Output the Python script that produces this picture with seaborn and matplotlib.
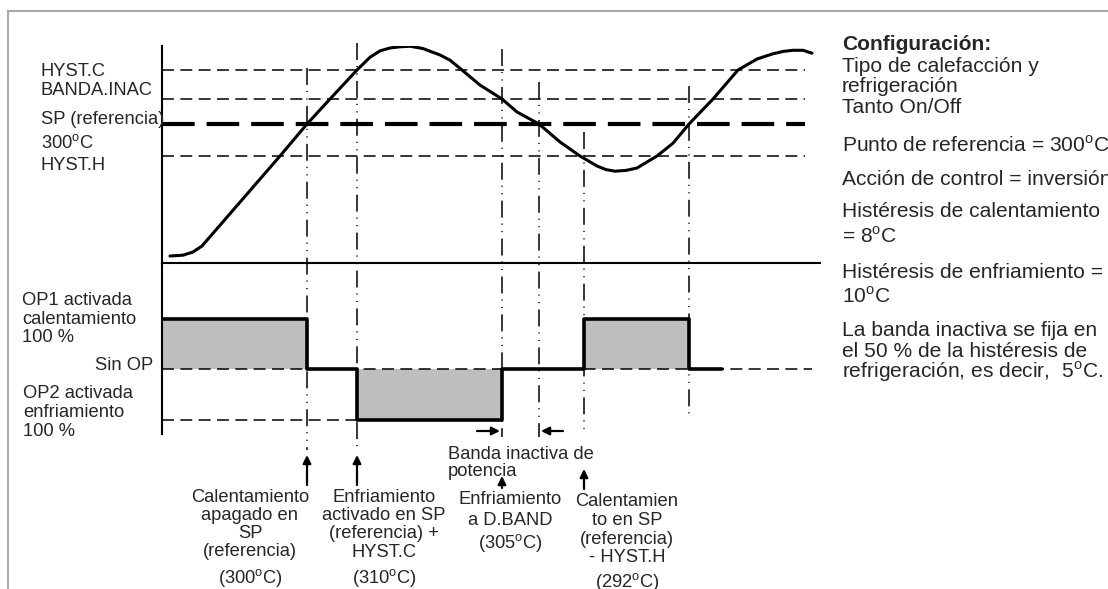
import numpy as np
import matplotlib
matplotlib.use("Agg")
import matplotlib.pyplot as plt
import matplotlib.transforms as mtransforms
from matplotlib.lines import Line2D
import seaborn as sns

# ---------------------------------------------------------------------------
# Data
# ---------------------------------------------------------------------------
# Process value: time (arbitrary units) and measured temperature (°C)
time_pv = [0.8, 2.1, 3.1, 4.0, 11.8, 14.5, 16.8, 19.5, 20.8, 21.8, 22.8, 23.8,
           24.8, 26.1, 27.0, 27.8, 28.8, 30.0, 31.8, 34.0, 35.5, 37.7, 39.8,
           41.8, 43.5, 44.4, 45.3, 46.4, 47.5, 49.5, 51.1, 52.7, 55.1, 57.6,
           59.5, 61.1, 62.1, 63.1, 64.1, 65.0]
temp_pv = [267.0, 267.2, 268.0, 269.5, 292.0, 300.0, 305.0, 310.0, 312.2, 313.3,
           313.8, 314.0, 314.1, 313.7, 313.1, 312.6, 311.7, 310.0, 307.4, 305.0,
           302.4, 300.0, 295.5, 292.0, 289.5, 288.6, 288.2, 288.4, 289.0, 292.0,
           295.2, 300.0, 305.0, 310.0, 311.9, 312.8, 313.2, 313.4, 313.4, 312.9]

# Threshold levels (°C)
level_names = ["HYST.C", "BANDA.INAC", "SP", "HYST.H"]
level_temps = [310, 305, 300, 292]

# Switching instants (same time units)
event_times = [14.5, 19.5, 34.0, 37.7, 42.2, 52.7]

# Controller output (%): +100 heating, 0 no output, -100 cooling
time_op = [0.0, 14.5, 19.5, 34.0, 42.2, 52.7, 56.0]
out_op = [100, 0, -100, 0, 100, 0, 0]

# ---------------------------------------------------------------------------
# Figure setup
# ---------------------------------------------------------------------------
sns.set_style("white")
plt.rcParams["font.family"] = ["Liberation Sans", "DejaVu Sans"]
plt.rcParams["mathtext.fontset"] = "custom"
plt.rcParams["mathtext.rm"] = "Liberation Sans"
plt.rcParams["lines.scale_dashes"] = False

W, H = 1108, 589
fig = plt.figure(figsize=(W / 100, H / 100), dpi=100)
fig.patch.set_facecolor("white")


def fx(px):
    return px / W


def fy(py):
    return 1 - py / H


FS = 13.2
FS_R = 15.1
DEG = r"$^{\mathregular{o}}$"

X_LEFT, X_RIGHT = 162, 820
T_MAX = (X_RIGHT - X_LEFT) / 10.0

ax_t = fig.add_axes([fx(X_LEFT), fy(263), (X_RIGHT - X_LEFT) / W, (263 - 46) / H])
ax_o = fig.add_axes([fx(X_LEFT), fy(434), (X_RIGHT - X_LEFT) / W, (434 - 263) / H])
for ax in (ax_t, ax_o):
    ax.set_facecolor("none")
    ax.set_xlim(0, T_MAX)
    ax.set_xticks([])
    ax.set_yticks([])
    for s in ax.spines.values():
        s.set_visible(False)
        s.set_linewidth(1.5)
        s.set_color("black")
ax_t.spines["left"].set_visible(True)
ax_t.spines["bottom"].set_visible(True)
ax_o.spines["left"].set_visible(True)

# ---------------------------------------------------------------------------
# Temperature panel
# ---------------------------------------------------------------------------
sns.lineplot(x=time_pv, y=temp_pv, sort=False, estimator=None, ax=ax_t,
             color="black", linewidth=2.2, zorder=5)

thin_dash = (0, (8.6, 4.6))
thick_dash = (0, (23.5, 8.6))
x_end_levels = 64.3
for name, temp in zip(level_names, level_temps):
    if name == "SP":
        ax_t.plot([0, x_end_levels], [temp, temp], color="black", lw=3.0,
                  ls=thick_dash, zorder=3)
    else:
        ax_t.plot([0, x_end_levels], [temp, temp], color="black", lw=1.1,
                  ls=thin_dash, zorder=3)

# Schematic temperature scale: the threshold band is drawn expanded
t_anchor = np.array([200.0, 292.0, 300.0, 305.0, 310.0, 400.0])
u_anchor = -np.array([524.0, 156.0, 124.0, 99.0, 70.0, -452.0])


def t_fwd(v):
    return np.interp(v, t_anchor, u_anchor)


def t_inv(v):
    return np.interp(v, u_anchor, t_anchor)


ax_t.set_yscale("function", functions=(t_fwd, t_inv))
ax_t.set_ylim(265.25, 314.14)
ax_t.set_yticks([])
ax_t.set_xlabel("")
ax_t.set_ylabel("")

# ---------------------------------------------------------------------------
# Output panel
# ---------------------------------------------------------------------------
ax_o.set_ylim(-128.7, 209.9)
ax_o.fill_between(time_op, out_op, 0, step="post", color="#bebebe", lw=0, zorder=1)
ax_o.plot([0, 65.0], [0, 0], color="black", lw=1.1, ls=thin_dash, zorder=3)
ax_o.plot([0, event_times[2]], [-100, -100], color="black", lw=1.1, ls=thin_dash, zorder=3)
sns.lineplot(x=time_op, y=out_op, sort=False, estimator=None, ax=ax_o,
             color="black", linewidth=2.6, drawstyle="steps-post", zorder=4)
ax_o.set_xlabel("")
ax_o.set_ylabel("")

# ---------------------------------------------------------------------------
# Switching instants: dash-dot-dot guides crossing both panels
# ---------------------------------------------------------------------------
guide_top = [68, 43, 49, 82, 132, 86]
guide_bot = [450, 450, 437, 437, 433, 417]
blend = mtransforms.blended_transform_factory(ax_t.transData, fig.transFigure)
dash_dot_dot = (0, (12.2, 4.3, 0.8, 4.6, 0.8, 4.6))
for t, y0, y1 in zip(event_times, guide_top, guide_bot):
    ax_t.plot([t, t], [fy(y0), fy(y1)], transform=blend, clip_on=False,
              color="black", lw=1.1, ls=dash_dot_dot, zorder=2)

arrow_kw = dict(arrowstyle="-|>", color="black", lw=1.6, mutation_scale=12,
                shrinkA=0, shrinkB=0)


def arrow(x0, y0, x1, y1):
    ax_t.annotate("", xy=(x1, fy(y1)), xytext=(x0, fy(y0)),
                  xycoords=("data", "figure fraction"),
                  textcoords=("data", "figure fraction"),
                  arrowprops=arrow_kw, annotation_clip=False)


arrow(event_times[0], 485, event_times[0], 455)
arrow(event_times[1], 485, event_times[1], 455)
arrow(event_times[2], 488, event_times[2], 476)
arrow(event_times[4], 489, event_times[4], 469)
arrow(event_times[2] - 2.5, 431, event_times[2] - 0.2, 431)
arrow(event_times[3] + 2.4, 431, event_times[3] + 0.2, 431)

# ---------------------------------------------------------------------------
# Text
# ---------------------------------------------------------------------------
def put(x, y, s, size=FS, ha="left", **kw):
    fig.text(fx(x), fy(y), s, fontsize=size, ha=ha, va="baseline", **kw)


# level labels
put(41, 76.5, "HYST.C")
put(41, 95, "BANDA.INAC")
put(41, 123.5, "SP (referencia)")
put(41, 148, "300" + DEG + "C")
put(41, 170, "HYST.H")

# output labels
put(22, 305, "OP1 activada")
put(22, 323.5, "calentamiento")
put(22, 342, "100 %")
put(153, 370, "Sin OP", ha="right")
put(23, 398, "OP2 activada")
put(23, 417, "enfriamiento")
put(23, 436.5, "100 %")

# event captions
blocks = [
    (250, ["Calentamiento", "apagado en", "SP", "(referencia)"], [502, 520, 538.5, 556.5],
     "(300" + DEG + "C)", 583),
    (384, ["Enfriamiento", "activado en SP", "(referencia) +", "HYST.C"], [502, 520, 538.5, 557],
     "(310" + DEG + "C)", 583),
    (510, ["Enfriamiento", "a D.BAND"], [504.5, 525],
     "(305" + DEG + "C)", 548.5),
    (627, ["Calentamien", "to en SP", "(referencia)", "- HYST.H"], [506.5, 525, 543.5, 561.5],
     "(292" + DEG + "C)", 587),
]
for cx, lines, ys, temp_line, ty in blocks:
    for s, y in zip(lines, ys):
        put(cx, y, s, ha="center")
    put(cx, ty, temp_line, ha="center")

put(448, 459, "Banda inactiva de")
put(448, 476, "potencia")

# configuration notes
notes = [
    ("Configuración:", 50, "bold"),
    ("Tipo de calefacción y", 71.5, "normal"),
    ("refrigeración", 92, "normal"),
    ("Tanto On/Off", 113, "normal"),
    ("Punto de referencia = 300" + DEG + "C", 152, "normal"),
    ("Acción de control = inversión", 185, "normal"),
    ("Histéresis de calentamiento", 217, "normal"),
    ("= 8" + DEG + "C", 243, "normal"),
    ("Histéresis de enfriamiento =", 278, "normal"),
    ("10" + DEG + "C", 303, "normal"),
    ("La banda inactiva se fija en", 336, "normal"),
    ("el 50 % de la histéresis de", 357, "normal"),
    ("refrigeración, es decir,  5" + DEG + "C.", 378, "normal"),
]
for s, y, w in notes:
    put(842, y, s, size=FS_R, fontweight=w)

# page frame
fig.add_artist(Line2D([fx(7.5), 1.0], [fy(10.5), fy(10.5)], transform=fig.transFigure,
                      color="#a8a8a8", lw=1.5))
fig.add_artist(Line2D([fx(7.5), fx(7.5)], [fy(10.5), 0.0], transform=fig.transFigure,
                      color="#a8a8a8", lw=1.5))

fig.savefig("out.png", dpi=100)
